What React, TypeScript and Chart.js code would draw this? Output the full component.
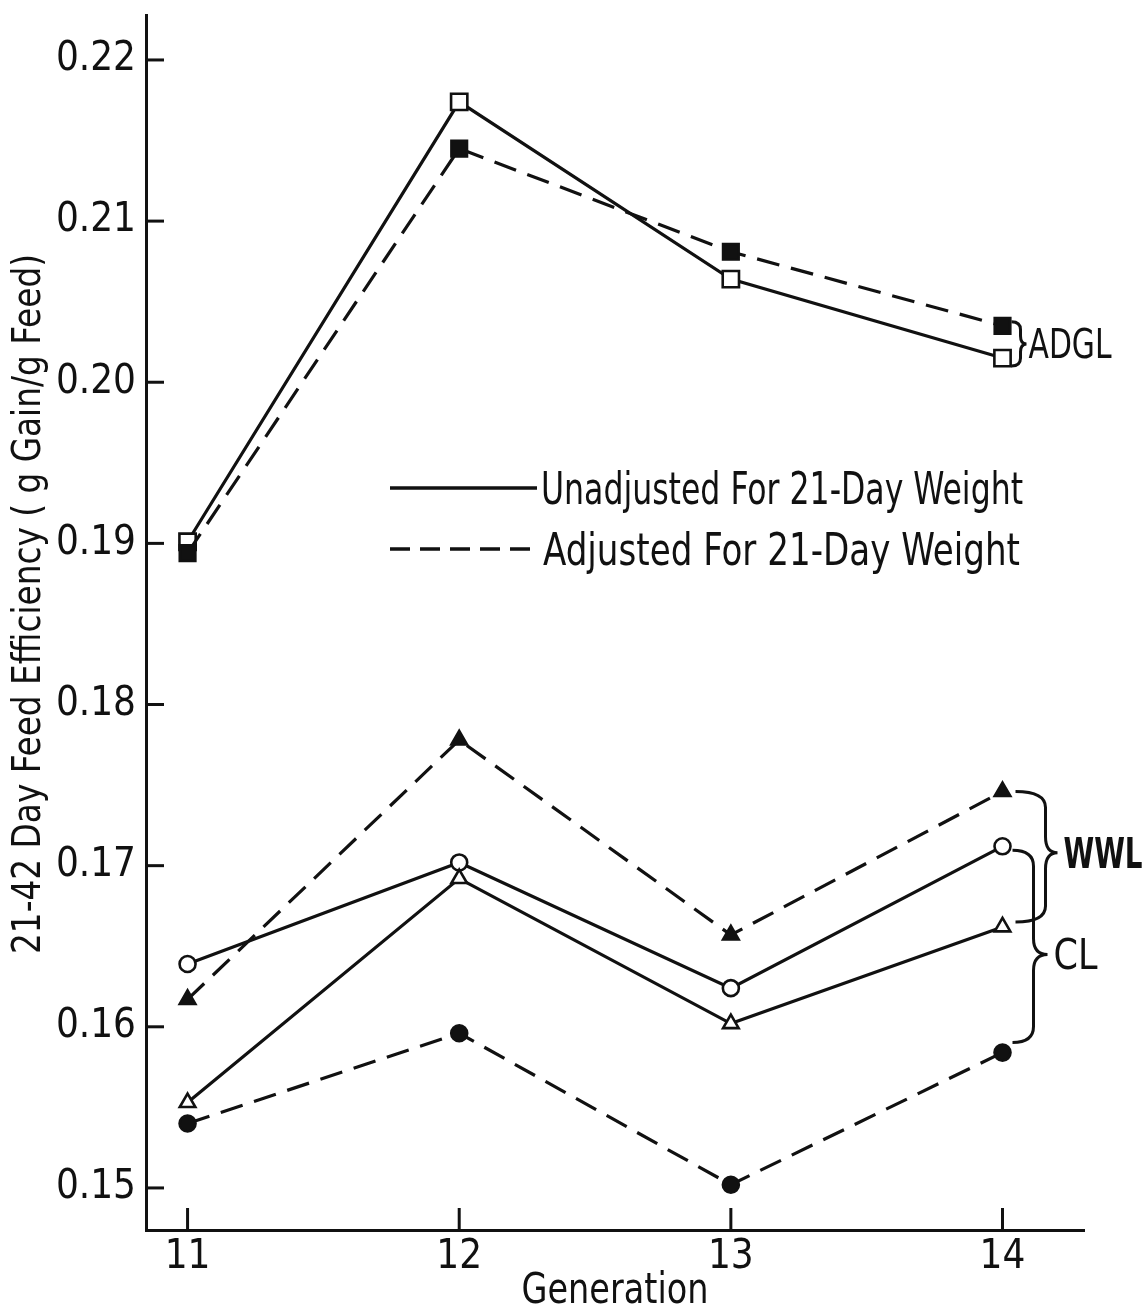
import React, { useEffect, useRef } from "react";
import { Chart, registerables } from "chart.js";

Chart.register(...registerables);

// ---- data ----
const generations = [11, 12, 13, 14];
const adglUnadjusted = [0.1901, 0.2174, 0.2064, 0.2015];
const adglAdjusted = [0.1894, 0.2145, 0.2081, 0.2035];
const wwlUnadjusted = [0.1553, 0.1692, 0.1602, 0.1662];
const wwlAdjusted = [0.1617, 0.1778, 0.1657, 0.1746];
const clUnadjusted = [0.1639, 0.1702, 0.1624, 0.1712];
const clAdjusted = [0.154, 0.1596, 0.1502, 0.1584];
const yTickValues = [0.15, 0.16, 0.17, 0.18, 0.19, 0.2, 0.21, 0.22];
const xTickValues = [11, 12, 13, 14];
const legendLabels = ["Unadjusted For 21-Day Weight", "Adjusted For 21-Day Weight"];
const groupLabels = ["ADGL", "WWL", "CL"];
const yTitle = "21-42 Day Feed Efficiency ( g Gain/g Feed)";
const xTitle = "Generation";

const FONT = '"Liberation Sans Narrow", "DejaVu Sans Condensed", "Liberation Sans", sans-serif';
const INK = "#111";
const DASH = [23, 12];

function pts(ys: number[]) {
  return generations.map((g, i) => ({ x: g, y: ys[i] }));
}

function fitText(ctx: CanvasRenderingContext2D, text: string, x: number, y: number, font: string, width: number, align: CanvasTextAlign = "left") {
  ctx.save();
  ctx.font = font;
  (ctx as any).letterSpacing = "0px";
  const w = ctx.measureText(text).width;
  const sx = w > 0 ? width / w : 1;
  ctx.translate(x, y);
  ctx.scale(sx, 1);
  ctx.textAlign = align;
  ctx.fillText(text, 0, 0);
  ctx.restore();
}

function brace(ctx: CanvasRenderingContext2D, x0: number, xm: number, xt: number, yTop: number, yBot: number, yTip: number, r: number) {
  ctx.beginPath();
  ctx.moveTo(x0, yTop);
  ctx.quadraticCurveTo(xm, yTop, xm, yTop + r);
  ctx.lineTo(xm, yTip - r);
  ctx.quadraticCurveTo(xm, yTip, xt, yTip);
  ctx.quadraticCurveTo(xm, yTip, xm, yTip + r);
  ctx.lineTo(xm, yBot - r);
  ctx.quadraticCurveTo(xm, yBot, x0, yBot);
  ctx.stroke();
}

const decorPlugin = {
  id: "decor",
  afterDraw(chart: any) {
    const ctx: CanvasRenderingContext2D = chart.ctx;
    const xs = chart.scales.x;
    const ys = chart.scales.y;
    const area = chart.chartArea;
    ctx.save();
    ctx.strokeStyle = INK;
    ctx.fillStyle = INK;
    ctx.lineWidth = 3;
    ctx.lineCap = "butt";

    // inward ticks
    ys.ticks.forEach((t: any) => {
      const y = ys.getPixelForValue(t.value);
      ctx.beginPath();
      ctx.moveTo(area.left, y);
      ctx.lineTo(area.left + 18, y);
      ctx.stroke();
    });
    xs.ticks.forEach((t: any) => {
      const x = xs.getPixelForValue(t.value);
      ctx.beginPath();
      ctx.moveTo(x, area.bottom);
      ctx.lineTo(x, area.bottom - 22);
      ctx.stroke();
    });

    // legend
    ctx.lineWidth = 3.5;
    ctx.beginPath();
    ctx.moveTo(390, 488);
    ctx.lineTo(537, 488);
    ctx.stroke();
    ctx.setLineDash([20, 10]);
    ctx.beginPath();
    ctx.moveTo(390, 549);
    ctx.lineTo(540, 549);
    ctx.stroke();
    ctx.setLineDash([]);
    ctx.textBaseline = "alphabetic";
    fitText(ctx, legendLabels[0], 541, 504, `44px ${FONT}`, 482);
    fitText(ctx, legendLabels[1], 543, 565, `44px ${FONT}`, 477);

    // braces
    ctx.lineWidth = 3;
    const px14 = xs.getPixelForValue(generations[3]);
    // ADGL
    const aTop = ys.getPixelForValue(adglAdjusted[3]) - 4;
    const aBot = ys.getPixelForValue(adglUnadjusted[3]) + 8;
    const aTip = (aTop + aBot) / 2;
    brace(ctx, px14 + 9, px14 + 18, px14 + 24, aTop, aBot, aTip, 8);
    fitText(ctx, groupLabels[0], px14 + 26, aTip + 14, `40px ${FONT}`, 83);
    // WWL
    const wTop = ys.getPixelForValue(wwlAdjusted[3]);
    const wBot = ys.getPixelForValue(wwlUnadjusted[3]) - 5;
    const wTip = (wTop + wBot) / 2 - 4;
    brace(ctx, px14 + 13, px14 + 43, px14 + 55, wTop, wBot, wTip, 16);
    fitText(ctx, groupLabels[1], px14 + 61, wTip + 15, `bold 42px ${FONT}`, 79);
    // CL
    const cTop = ys.getPixelForValue(clUnadjusted[3]) + 4;
    const cBot = ys.getPixelForValue(clAdjusted[3]) - 10;
    const cTip = (cTop + cBot) / 2 + 8;
    brace(ctx, px14 + 10, px14 + 31, px14 + 45, cTop, cBot, cTip, 16);
    fitText(ctx, groupLabels[2], px14 + 51, cTip + 15, `42px ${FONT}`, 44);

    // x title
    fitText(ctx, xTitle, (area.left + area.right) / 2, 1303, `42px ${FONT}`, 187, "center");

    // y title
    ctx.translate(40, 604);
    ctx.rotate(-Math.PI / 2);
    ctx.font = `39px ${FONT}`;
    (ctx as any).letterSpacing = "0px";
    const natural = ctx.measureText(yTitle).width;
    const ls = (700 - natural) / (yTitle.length - 1);
    if (ls >= 0) {
      (ctx as any).letterSpacing = `${ls}px`;
      ctx.textAlign = "center";
      ctx.fillText(yTitle, 0, 0);
    } else {
      ctx.scale(700 / natural, 1);
      ctx.textAlign = "center";
      ctx.fillText(yTitle, 0, 0);
    }
    ctx.restore();
  },
};

export default function App() {
  const ref = useRef<HTMLCanvasElement | null>(null);
  useEffect(() => {
    if (!ref.current) return;
    const solid = (data: number[], style: string, filled: boolean, radius: number) => ({
      data: pts(data),
      borderColor: INK,
      borderWidth: 3.2,
      borderDash: [] as number[],
      pointStyle: style,
      pointRadius: radius,
      pointBorderWidth: 2.6,
      pointBorderColor: INK,
      pointBackgroundColor: filled ? INK : "#fff",
      fill: false,
      tension: 0,
    });
    const dashed = (data: number[], style: string, radius: number) => ({
      ...solid(data, style, true, radius),
      borderDash: DASH,
    });
    const chart = new Chart(ref.current, {
      type: "line",
      data: {
        datasets: [
          { label: "CL adjusted", ...dashed(clAdjusted, "circle", 8) },
          { label: "WWL adjusted", ...dashed(wwlAdjusted, "triangle", 9) },
          { label: "ADGL adjusted", ...dashed(adglAdjusted, "rect", 11) },
          { label: "WWL unadjusted", ...solid(wwlUnadjusted, "triangle", false, 9) },
          { label: "CL unadjusted", ...solid(clUnadjusted, "circle", false, 8) },
          { label: "ADGL unadjusted", ...solid(adglUnadjusted, "rect", false, 11.5) },
        ] as any,
      },
      options: {
        responsive: false,
        animation: false,
        layout: { padding: { top: 15, right: 62, left: 0, bottom: 0 } },
        plugins: { legend: { display: false }, tooltip: { enabled: false }, title: { display: false } },
        scales: {
          x: {
            type: "linear",
            min: 10.847,
            max: 14.3,
            grid: { display: false },
            border: { display: true, color: INK, width: 3 },
            afterFit: (s: any) => { s.height = 80; s.paddingLeft = 0; s.paddingRight = 0; },
            afterBuildTicks: (s: any) => { s.ticks = xTickValues.map((v) => ({ value: v })); },
            ticks: {
              color: INK,
              padding: -4,
              font: { family: FONT, size: 40 },
              callback: (v: any) => String(v),
            },
          },
          y: {
            type: "linear",
            min: 0.14739,
            max: 0.22279,
            grid: { display: false },
            border: { display: true, color: INK, width: 3 },
            afterFit: (s: any) => { s.width = 146; s.paddingTop = 0; s.paddingBottom = 0; },
            afterBuildTicks: (s: any) => { s.ticks = yTickValues.map((v) => ({ value: v })); },
            ticks: {
              color: INK,
              padding: 2,
              font: { family: FONT, size: 40 },
              callback: (v: any) => Number(v).toFixed(2),
            },
          },
        },
      } as any,
      plugins: [decorPlugin],
    });
    return () => chart.destroy();
  }, []);
  return (
    <div style={{ position: "absolute", left: 0, top: 0, width: 1146, height: 1310, background: "#fff" }}>
      <canvas ref={ref} width={1146} height={1310} />
    </div>
  );
}
